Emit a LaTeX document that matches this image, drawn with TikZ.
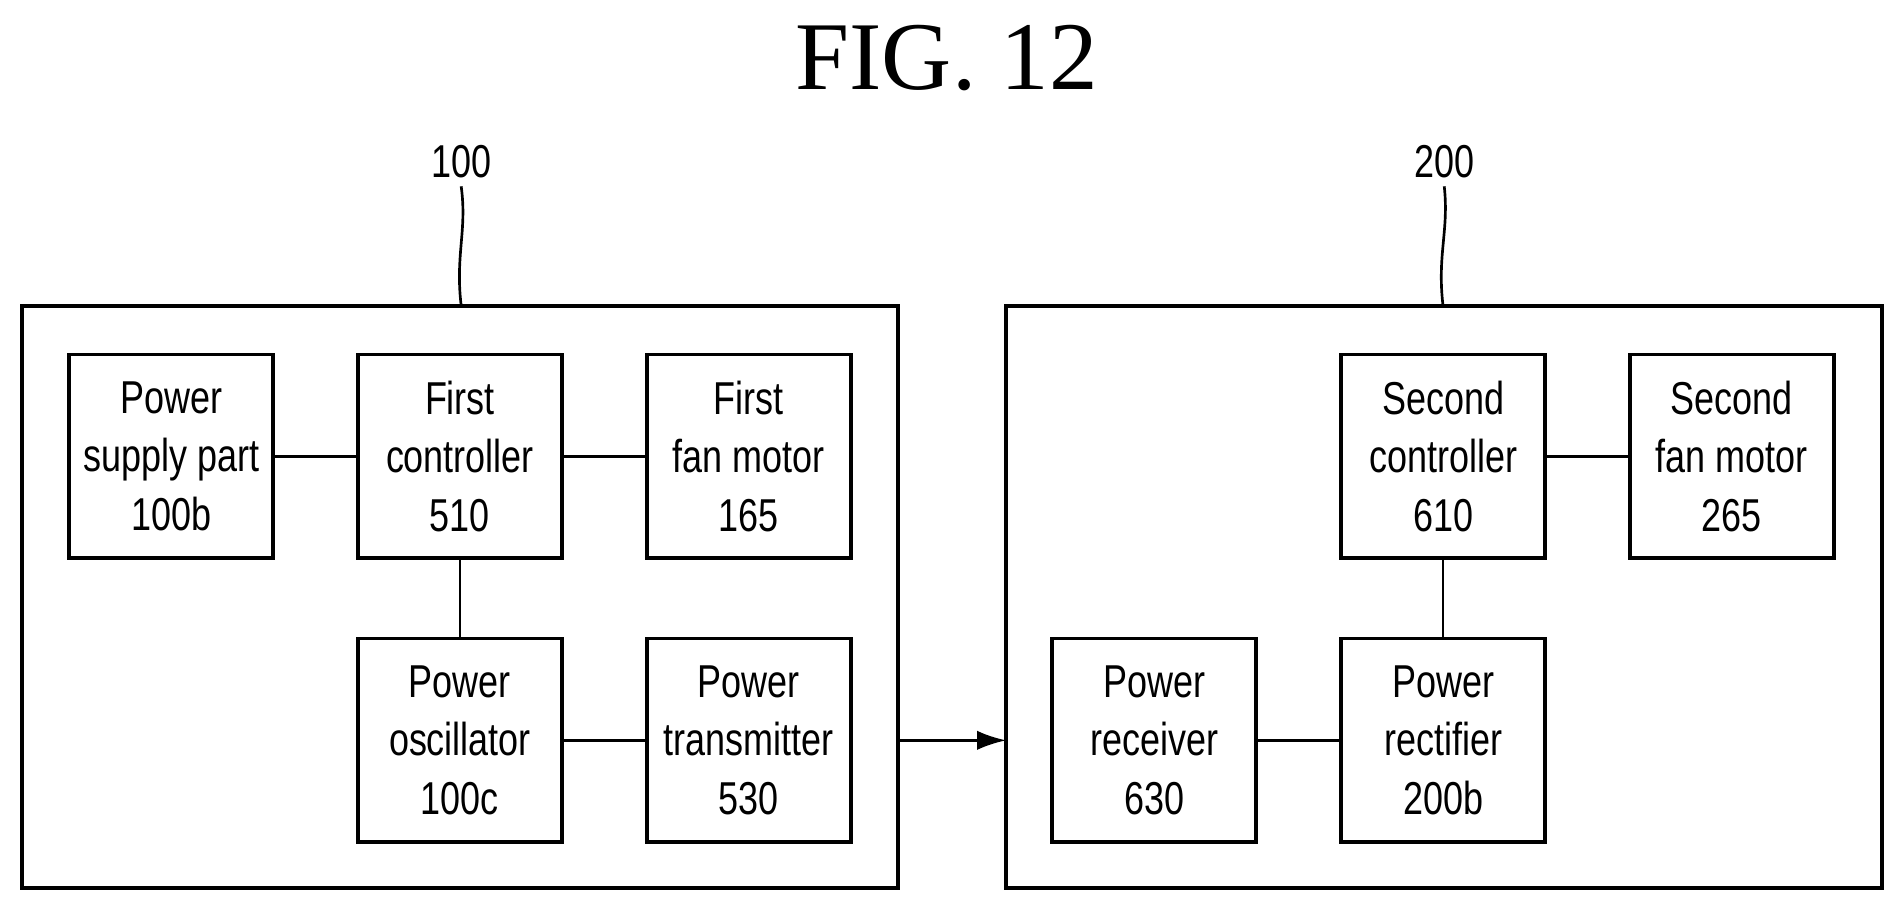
\documentclass[tikz,border=0pt]{standalone}
\usepackage{fontspec}
\setmainfont{Liberation Serif}
\newfontfamily\lab{Liberation Sans}[FakeStretch=0.78]
\usetikzlibrary{arrows.meta}
\begin{document}
\begin{tikzpicture}[x=0.5pt,y=-0.5pt,
  blk/.style={draw,line width=1.5pt,minimum width=84pt,minimum height=84pt,inner sep=0pt,align=center,font=\lab\fontsize{19}{24}\selectfont},
  outer/.style={draw,line width=1.6pt},
  ln/.style={line width=1.1pt}]
\useasboundingbox (0,0) rectangle (1568,750);
\node[font=\fontsize{40}{44}\selectfont] (title) at (780,48) {FIG. 12};
\node[font=\lab\fontsize{19}{22}\selectfont] (l100) at (380,133) {100};
\node[font=\lab\fontsize{19}{22}\selectfont] (l200) at (1190,133) {200};
\draw[outer] (18,252) rectangle (740,732);
\draw[outer] (829,252) rectangle (1551,732);
\coordinate (t1) at (380,252);
\coordinate (t2) at (1189,252);
\draw[ln] (l100.south) .. controls (385,190) and (375,210) .. (t1);
\draw[ln] (l200.south) .. controls (1194,190) and (1184,210) .. (t2);
\node[blk] (ps) at (141,376) {Power\\supply part\\100b};
\node[blk] (fc) at (379,376) {First\\controller\\510};
\node[blk] (ff) at (617,376) {First\\fan motor\\165};
\node[blk] (po) at (379,610) {Power\\oscillator\\100c};
\node[blk] (pt) at (617,610) {Power\\transmitter\\530};
\node[blk] (sc) at (1189,376) {Second\\controller\\610};
\node[blk] (sf) at (1427,376) {Second\\fan motor\\265};
\node[blk] (pr) at (951,610) {Power\\receiver\\630};
\node[blk] (rf) at (1189,610) {Power\\rectifier\\200b};
\draw[ln] (ps) -- (fc);
\draw[ln] (fc) -- (ff);
\draw[ln] (fc) -- (po);
\draw[ln] (po) -- (pt);
\draw[ln] (sc) -- (sf);
\draw[ln] (sc) -- (rf);
\draw[ln] (pr) -- (rf);
\coordinate (a1) at (740,610);
\coordinate (a2) at (829,610);
\draw[ln,-{Latex[length=12pt,width=8pt]}] (a1) -- (a2);
\end{tikzpicture}
\end{document}
